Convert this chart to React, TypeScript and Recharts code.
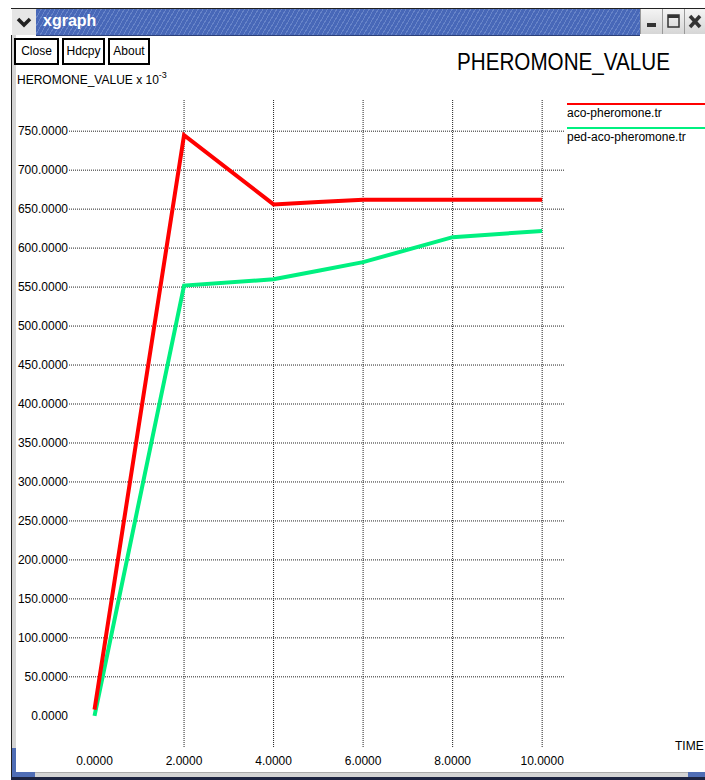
import React from 'react';
import { LineChart, Line, XAxis, YAxis, ReferenceLine } from 'recharts';

// sample times and pheromone values (x 10^-3)
const times = [0, 2, 4, 5, 6, 8, 10];
const acoPheromone = [8, 745, 656, 659, 662, 662, 662];
const pedAcoPheromone = [0, 552, 560, 571, 582, 614, 622];

const xTicks = [0, 2, 4, 6, 8, 10];
const yTicks = [0, 50, 100, 150, 200, 250, 300, 350, 400, 450, 500, 550, 600, 650, 700, 750];

const data = times.map((t, i) => ({
  time: t,
  aco: acoPheromone[i],
  ped: pedAcoPheromone[i],
}));

const font = '"Liberation Sans", Arial, sans-serif';
const gridColor = '#222';

const WinButton: React.FC<{ left: number; children: React.ReactNode }> = ({ left, children }) => (
  <div
    style={{
      position: 'absolute', left, top: 9, width: 21, height: 25,
      background: 'linear-gradient(#f4f4f4, #d6d6d6)', borderLeft: '1px solid #999',
    }}
  >
    <svg width={21} height={25}>{children}</svg>
  </div>
);

const Button: React.FC<{ left: number; width: number; label: string }> = ({ left, width, label }) => (
  <div
    style={{
      position: 'absolute', left, top: 38, width, height: 27, boxSizing: 'border-box',
      border: '2px solid #000', fontSize: 12, lineHeight: '23px', textAlign: 'center',
      fontFamily: font, color: '#000', background: '#fff',
    }}
  >
    {label}
  </div>
);

export default function App() {
  return (
    <div style={{ position: 'absolute', left: 0, top: 0, width: 705, height: 780, background: '#fff', overflow: 'hidden', fontFamily: font }}>
      {/* window frame */}
      <div style={{ position: 'absolute', left: 11, top: 35, width: 1, height: 743, background: '#222' }} />
      <div style={{ position: 'absolute', left: 12, top: 35, width: 4, height: 713, background: '#d4d4d4' }} />
      <div style={{ position: 'absolute', left: 12, top: 748, width: 4, height: 29, background: '#4f6db5' }} />
      <div style={{ position: 'absolute', left: 12, top: 772, width: 23, height: 5, background: '#4f6db5' }} />
      <div style={{ position: 'absolute', left: 35, top: 772, width: 653, height: 5, background: '#d4d4d4', borderTop: '1px solid #aaa' }} />
      <div style={{ position: 'absolute', left: 688, top: 772, width: 17, height: 5, background: '#4f6db5' }} />
      <div style={{ position: 'absolute', left: 11, top: 777, width: 694, height: 3, background: '#1c2340' }} />

      {/* title bar */}
      <div style={{ position: 'absolute', left: 11, top: 8, width: 694, height: 1, background: '#222' }} />
      <div style={{ position: 'absolute', left: 12, top: 9, width: 24, height: 26, background: '#e6e6e6' }}>
        <svg width={24} height={26}>
          <polyline points="6,10 12,16 18,10" fill="none" stroke="#222" strokeWidth={3.5} />
        </svg>
      </div>
      <div
        style={{
          position: 'absolute', left: 36, top: 9, width: 604, height: 26,
          background: 'repeating-linear-gradient(-60deg, #4868b8 0px, #4868b8 3px, #6784c8 3px, #6784c8 4px)',
          borderBottom: '1px solid #2b3f78',
        }}
      >
        <span style={{ position: 'absolute', left: 7, top: 3, color: '#fff', fontWeight: 'bold', fontSize: 16 }}>xgraph</span>
      </div>
      <WinButton left={640}>
        <rect x={6} y={14} width={9} height={4} fill="#333" />
      </WinButton>
      <WinButton left={662}>
        <rect x={5} y={6} width={11} height={12} fill="none" stroke="#333" strokeWidth={1.5} />
        <rect x={5} y={6} width={11} height={3} fill="#333" />
      </WinButton>
      <WinButton left={684}>
        <line x1={5} y1={7} x2={15} y2={18} stroke="#333" strokeWidth={3.5} />
        <line x1={15} y1={7} x2={5} y2={18} stroke="#333" strokeWidth={3.5} />
      </WinButton>

      {/* buttons */}
      <Button left={14} width={45} label="Close" />
      <Button left={62} width={43} label="Hdcpy" />
      <Button left={108} width={42} label="About" />

      {/* y axis label (its first letter is hidden behind the frame) */}
      <div style={{ position: 'absolute', left: 17, top: 66, fontSize: 12, whiteSpace: 'nowrap', color: '#000', lineHeight: '16px', paddingTop: 6 }}>
        HEROMONE_VALUE x 10<span style={{ fontSize: 9, position: 'relative', top: -6 }}>-3</span>
      </div>

      {/* title */}
      <div
        style={{
          position: 'absolute', left: 457, top: 48, fontSize: 24, whiteSpace: 'nowrap', color: '#000',
          transform: 'scaleX(0.86)', transformOrigin: 'left top',
        }}
      >
        PHEROMONE_VALUE
      </div>

      {/* legend */}
      <div style={{ position: 'absolute', left: 567, top: 103, width: 138, height: 2, background: '#ff0000' }} />
      <div style={{ position: 'absolute', left: 567, top: 106, fontSize: 12, color: '#000' }}>aco-pheromone.tr</div>
      <div style={{ position: 'absolute', left: 567, top: 127, width: 138, height: 2, background: '#00f080' }} />
      <div style={{ position: 'absolute', left: 567, top: 130, fontSize: 12, color: '#000' }}>ped-aco-pheromone.tr</div>

      {/* x axis label */}
      <div style={{ position: 'absolute', left: 675, top: 739, fontSize: 12, color: '#000', whiteSpace: 'nowrap' }}>TIME</div>

      <div style={{ position: 'absolute', left: 0, top: 0 }}>
        <LineChart width={705} height={780} data={data} margin={{ top: 100, right: 140, bottom: 0, left: 0 }}>
          <XAxis
            dataKey="time"
            type="number"
            domain={[-0.57, 10.51]}
            ticks={xTicks}
            allowDataOverflow
            axisLine={false}
            tickLine={false}
            tickSize={0}
            tickMargin={9}
            height={33}
            tickFormatter={(v: number) => v.toFixed(4)}
            tick={{ fill: '#000', fontSize: 12, fontFamily: font }}
          />
          <YAxis
            type="number"
            domain={[-40, 790]}
            ticks={yTicks}
            allowDataOverflow
            axisLine={false}
            tickLine={false}
            tickSize={0}
            tickMargin={1}
            width={69}
            tickFormatter={(v: number) => v.toFixed(4)}
            tick={{ fill: '#000', fontSize: 12, fontFamily: font }}
          />
          {yTicks.filter((v) => v !== 0).map((v) => (
            <ReferenceLine key={`h${v}`} y={v} stroke={gridColor} strokeDasharray="1 1" />
          ))}
          {xTicks.filter((v) => v !== 0).map((v) => (
            <ReferenceLine key={`v${v}`} x={v} stroke={gridColor} strokeDasharray="1 1" />
          ))}
          <Line type="linear" dataKey="ped" stroke="#00f080" strokeWidth={4} dot={false} isAnimationActive={false} />
          <Line type="linear" dataKey="aco" stroke="#ff0000" strokeWidth={4} dot={false} isAnimationActive={false} />
        </LineChart>
      </div>
    </div>
  );
}
